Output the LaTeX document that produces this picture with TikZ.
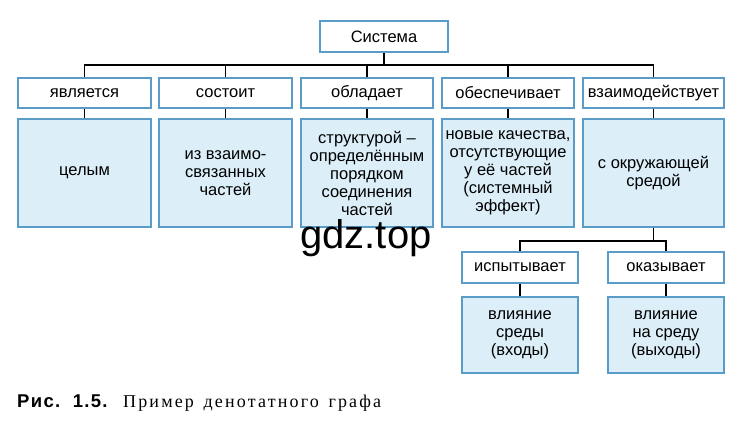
\documentclass[tikz,border=0pt]{standalone}
\usepackage{fontspec}
\setmainfont{Liberation Sans}
\newfontfamily\capserif[LetterSpace=12]{Liberation Serif}
\newfontfamily\capsans[LetterSpace=7]{Liberation Sans}
\definecolor{bordblue}{HTML}{5A9CC8}
\definecolor{fillblue}{HTML}{DCEEF8}
\begin{document}
\begin{tikzpicture}[x=1pt,y=-1pt,
  lbl/.style={draw=bordblue,line width=1.4pt,fill=white,inner sep=0pt,
     minimum height=30pt,font=\fontsize{16.5}{18}\selectfont},
  cont/.style={draw=bordblue,line width=1.4pt,fill=fillblue,inner sep=0pt,
     align=center,font=\fontsize{16.5}{18}\selectfont},
  conn/.style={line width=1.6pt,black}]
\useasboundingbox (0,0) rectangle (745,423);
% top
\node[lbl,line width=2.6pt,minimum width=128pt,minimum height=31pt] (sys) at (384,36.5) {Система};
\coordinate (bus) at (0,65);
\coordinate (bus2) at (0,241);
% row 1
\node[lbl,minimum width=133pt] (b1) at (84.5,93) {является};
\node[lbl,minimum width=133pt] (b2) at (225.5,93) {состоит};
\node[lbl,minimum width=132pt] (b3) at (367,93) {обладает};
\node[lbl,minimum width=132pt] (b4) at (508,93) {обеспечивает};
\node[lbl,minimum width=141pt] (b5) at (653.5,93) {взаимодействует};
% row 2
\node[cont,minimum width=133pt,minimum height=108pt] (c1) at (84.5,173) {целым};
\node[cont,minimum width=133pt,minimum height=108pt] (c2) at (225.5,173) {из взаимо-\\связанных\\частей};
\node[cont,minimum width=132pt,minimum height=108pt] (c3) at (367,173) {структурой –\\определённым\\порядком\\соединения\\частей};
\node[cont,minimum width=132pt,minimum height=108pt] (c4) at (508,173) {новые качества,\\отсутствующие\\у её частей\\(системный\\эффект)};
\node[cont,minimum width=141pt,minimum height=108pt] (c5) at (653.5,173) {с окружающей\\средой};
% row 3
\node[lbl,minimum width=116pt,minimum height=31pt] (r3a) at (520,267.5) {испытывает};
\node[lbl,minimum width=116pt,minimum height=31pt] (r3b) at (666,267.5) {оказывает};
% row 4
\node[cont,minimum width=116pt,minimum height=76pt] (d1) at (520,335) {влияние\\среды\\(входы)};
\node[cont,minimum width=116pt,minimum height=76pt] (d2) at (666,335) {влияние\\на среду\\(выходы)};
% connectors
\draw[conn] (sys.south) -- (sys.south |- bus);
\draw[conn] (b1.north) |- (b5.north |- bus) -- (b5.north);
\draw[conn] (b2.north) -- (b2.north |- bus);
\draw[conn] (b3.north) -- (b3.north |- bus);
\draw[conn] (b4.north) -- (b4.north |- bus);
\draw[conn] (b1.south) -- (c1.north);
\draw[conn] (b2.south) -- (c2.north);
\draw[conn] (b3.south) -- (c3.north);
\draw[conn] (b4.south) -- (c4.north);
\draw[conn] (b5.south) -- (c5.north);
\draw[conn] (c5.south) -- (c5.south |- bus2);
\draw[conn] (r3a.north) |- (r3b.north |- bus2) -- (r3b.north);
\draw[conn] (r3a.south) -- (d1.north);
\draw[conn] (r3b.south) -- (d2.north);
% watermark
\node[font=\fontsize{40}{40}\selectfont,inner sep=0pt] (wm) at (366,238) {gdz.top};
% caption
\node[anchor=base west,inner sep=0pt,font=\capsans\bfseries\fontsize{18.5}{20}\selectfont] (cap1) at (17,407) {Рис.\hspace{4pt} 1.5.};
\node[anchor=base west,inner sep=0pt,font=\capserif\fontsize{18}{20}\selectfont] (cap2) at (123,407) {Пример\hspace{3pt} денотатного\hspace{3pt} графа};
\end{tikzpicture}
\end{document}
